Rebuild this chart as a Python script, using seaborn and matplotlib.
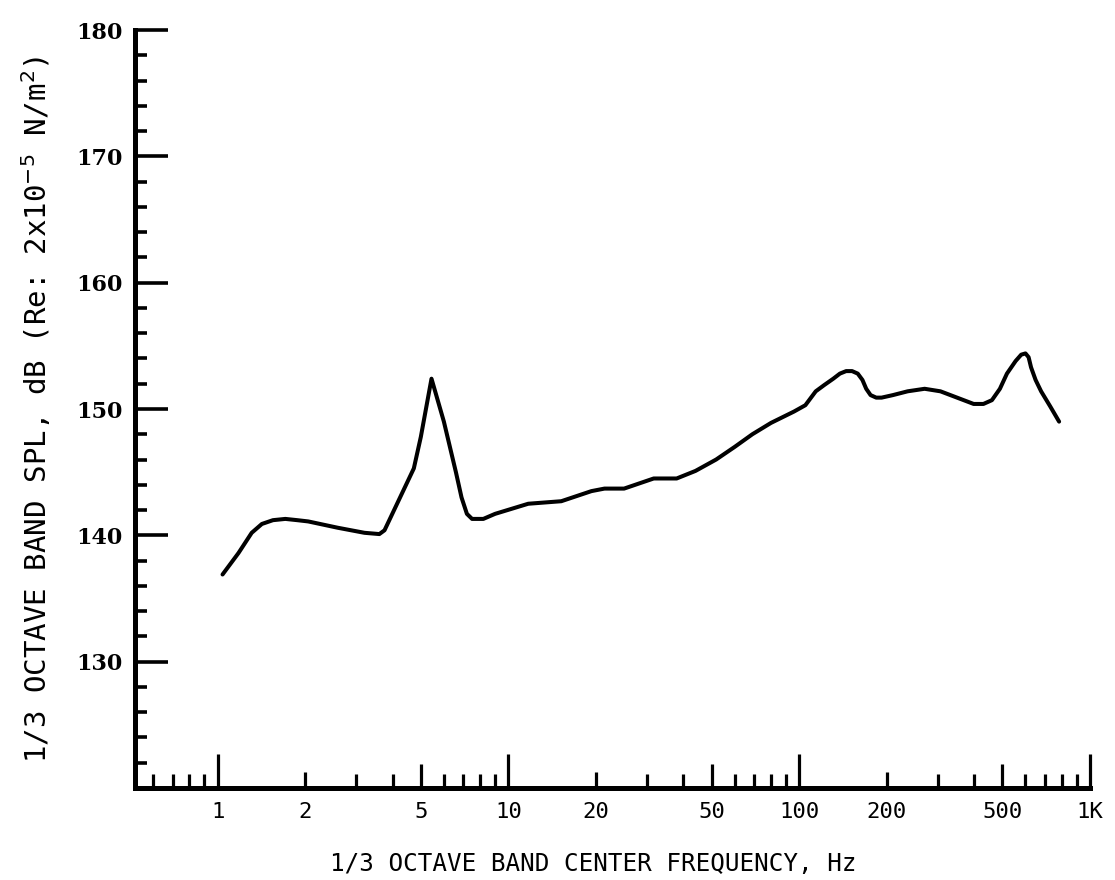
import matplotlib
matplotlib.use("Agg")
import matplotlib.pyplot as plt
import seaborn as sns
import pandas as pd
import numpy as np
from matplotlib.ticker import FixedLocator, NullFormatter

# ---- data ----
freq_hz = [1.04, 1.18, 1.31, 1.42, 1.55, 1.71, 1.88, 2.05, 2.59, 3.2,
           3.6, 3.75, 4.73, 5.0, 5.44, 6.0, 6.6, 6.9, 7.2, 7.5,
           8.2, 9.0, 11.7, 15.2, 19.3, 21.4, 25.0, 31.6, 37.9, 44.0,
           51.8, 60.0, 69.0, 80.0, 96.0, 105.0, 114.0, 122.0, 131.0, 138.0,
           145.0, 152.0, 159.0, 165.0, 170.0, 176.0, 184.0, 192.0, 210.0, 236.0,
           270.0, 306.0, 349.0, 398.0, 430.0, 460.0, 490.0, 518.0, 555.0, 580.0,
           600.0, 615.0, 627.0, 650.0, 679.0, 730.0, 783.0]
spl_db = [136.9, 138.6, 140.2, 140.9, 141.2, 141.3, 141.2, 141.1, 140.6, 140.2,
          140.1, 140.4, 145.3, 147.8, 152.4, 149.0, 145.0, 143.0, 141.7, 141.3,
          141.3, 141.7, 142.5, 142.7, 143.5, 143.7, 143.7, 144.5, 144.5, 145.1,
          146.0, 147.0, 148.0, 148.9, 149.8, 150.3, 151.4, 151.9, 152.4, 152.8,
          153.0, 153.0, 152.8, 152.3, 151.6, 151.1, 150.9, 150.9, 151.1, 151.4,
          151.6, 151.4, 150.9, 150.4, 150.4, 150.7, 151.6, 152.8, 153.8, 154.3,
          154.4, 154.1, 153.3, 152.3, 151.4, 150.2, 149.0]

x_major = [1, 2, 5, 10, 20, 50, 100, 200, 500, 1000]
x_labels = ["1", "2", "5", "10", "20", "50", "100", "200", "500", "1K"]
y_major = [130, 140, 150, 160, 170, 180]

df = pd.DataFrame({"freq": freq_hz, "spl": spl_db})

sns.set_theme(style="white")
plt.rcParams["font.family"] = ["DejaVu Sans Mono", "DejaVu Sans"]
plt.rcParams["xtick.bottom"] = True
plt.rcParams["ytick.left"] = True

PX = 72.0 / 100.0  # points per pixel

fig = plt.figure(figsize=(11.15, 8.8), dpi=100)
ax = fig.add_axes([135 / 1115, 1 - 788 / 880, (1090 - 135) / 1115, (788 - 30) / 880])

sns.lineplot(data=df, x="freq", y="spl", ax=ax, color="black", linewidth=2.9,
             sort=False, estimator=None)
ax.lines[0].set_solid_joinstyle("round")
ax.lines[0].set_solid_capstyle("round")

ax.set_xscale("log")
ax.set_xlim(0.52, 1000)
ax.set_ylim(120, 180)

for s in ["top", "right"]:
    ax.spines[s].set_visible(False)
for s in ["left", "bottom"]:
    ax.spines[s].set_linewidth(3.6)
    ax.spines[s].set_color("black")

# x ticks
ax.xaxis.set_major_locator(FixedLocator(x_major))
ax.set_xticklabels(x_labels)
minor_x = []
for dec in [0.1, 1, 10, 100]:
    for m in range(2, 10):
        v = m * dec
        if 0.55 < v < 1000:
            minor_x.append(v)
minor_x = [v for v in minor_x if not any(np.isclose(v, t) for t in x_major)]
ax.xaxis.set_minor_locator(FixedLocator(minor_x))
ax.xaxis.set_minor_formatter(NullFormatter())
ax.tick_params(axis="x", which="both", bottom=True, top=False)
ax.tick_params(axis="x", which="major", direction="in", width=2.3, length=34 * PX,
               pad=10, labelsize=16, colors="black")
ax.tick_params(axis="x", which="minor", direction="in", width=2.3, length=14 * PX,
               colors="black")
for t, v in zip(ax.xaxis.get_major_ticks(), x_major):
    if v in (1, 10, 100, 1000):
        t.tick1line.set_markersize(34 * PX)
    elif v in (5, 50, 500):
        t.tick1line.set_markersize(24 * PX)
    else:
        t.tick1line.set_markersize(16 * PX)

# y ticks
ax.yaxis.set_major_locator(FixedLocator(y_major))
ax.yaxis.set_minor_locator(FixedLocator([v for v in range(122, 180, 2) if v % 10 != 0]))
ax.tick_params(axis="y", which="both", left=True, right=False)
ax.tick_params(axis="y", which="major", direction="in", width=2.6, length=33 * PX,
               pad=9, labelsize=16, colors="black")
ax.tick_params(axis="y", which="minor", direction="in", width=2.6, length=12 * PX,
               colors="black")
for lab in ax.get_yticklabels():
    lab.set_fontfamily(["DejaVu Serif", "DejaVu Sans"])
    lab.set_fontweight("bold")

ax.set_xlabel("1/3 OCTAVE BAND CENTER FREQUENCY, Hz", fontsize=17.5, color="black")
ax.set_ylabel(r"1/3 OCTAVE BAND SPL, dB (Re: 2x10$^{-5}$ N/m$^{2}$)", fontsize=21,
              color="black")
ax.yaxis.set_label_coords(-82 / 955, 0.5)
ax.xaxis.set_label_coords(0.48, -0.085)

fig.savefig("out.png", dpi=100, facecolor="white")
